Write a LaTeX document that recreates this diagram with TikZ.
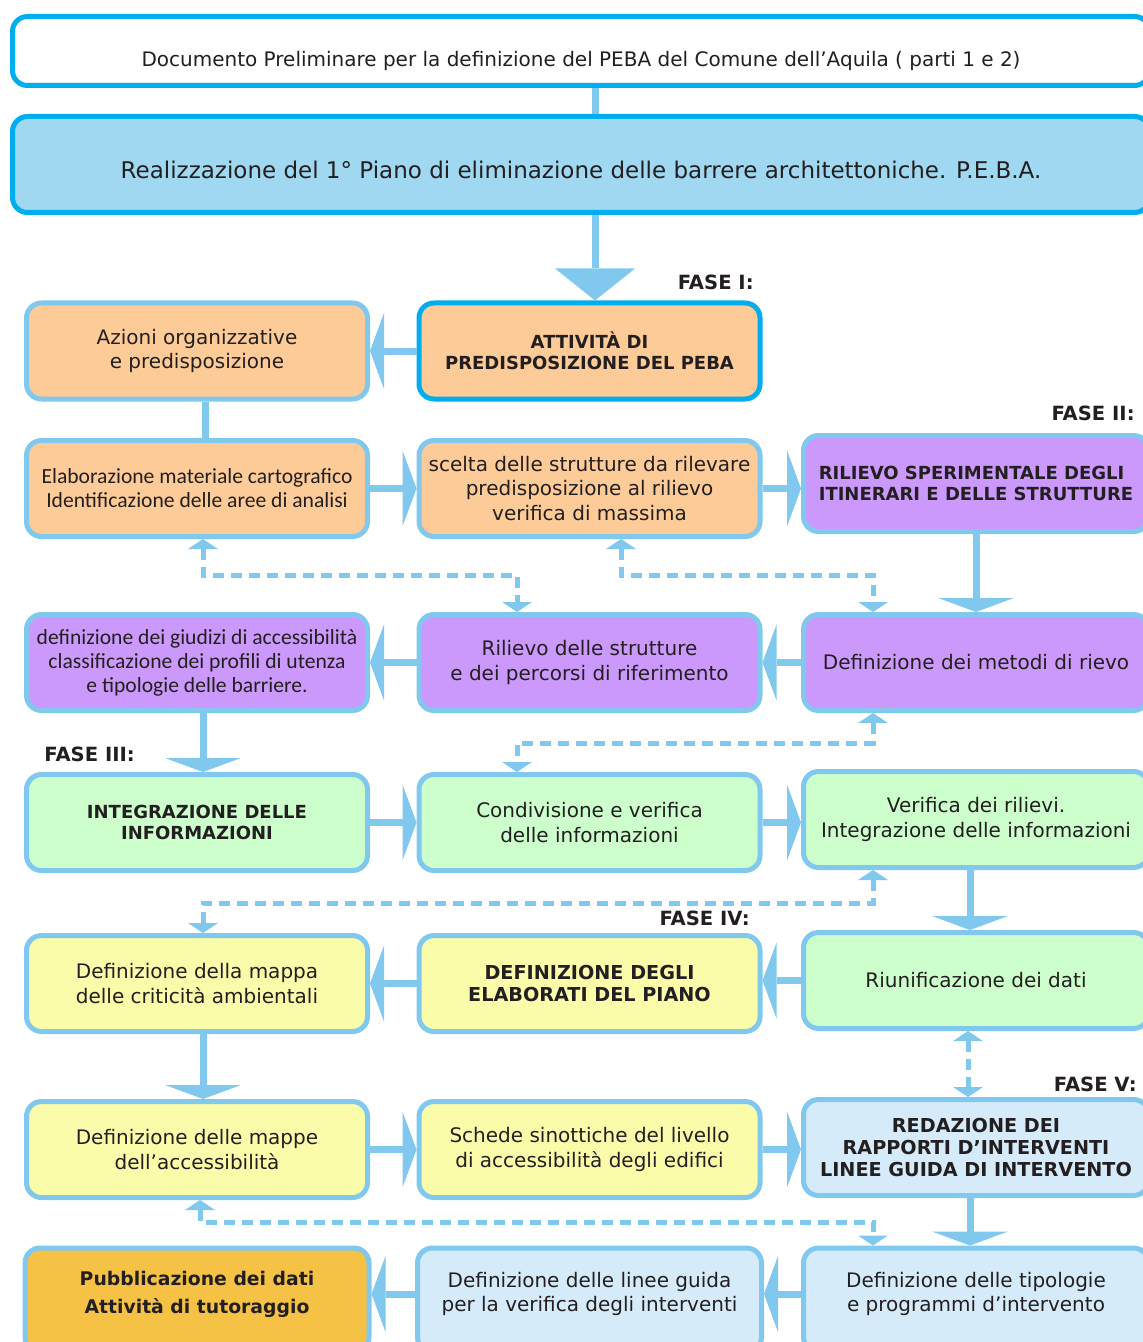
\documentclass[tikz,border=0pt]{standalone}
\usepackage{fontspec}
\setmainfont{DejaVu Sans}
\newfontfamily\calib{Carlito}
\usetikzlibrary{arrows.meta}

\definecolor{cyanline}{RGB}{0,174,239}
\definecolor{linkblue}{RGB}{128,200,238}
\definecolor{headfill}{RGB}{159,216,240}
\definecolor{peach}{RGB}{253,203,151}
\definecolor{lilac}{RGB}{203,152,251}
\definecolor{mint}{RGB}{204,255,204}
\definecolor{lemon}{RGB}{250,252,170}
\definecolor{sky}{RGB}{214,235,249}
\definecolor{gold}{RGB}{245,194,69}
\definecolor{ink}{RGB}{35,31,32}

\newcommand{\lowtext}[1]{\raisebox{0.5pt}[0pt][0pt]{\parbox{168pt}{\centering #1}}}

\tikzset{
  stage/.style={rectangle, rounded corners=7.5pt, draw=linkblue, line width=2.5pt,
    minimum width=170.5pt, minimum height=48pt, align=center, inner sep=2pt,
    text=ink, font=\fontsize{10}{12.2}\selectfont},
  widestage/.style={stage, minimum width=172.5pt},
  laststage/.style={minimum height=52pt},
  title/.style={font=\bfseries\fontsize{9}{10.6}\selectfont},
  bigtitle/.style={font=\bfseries\fontsize{9.6}{11}\selectfont},
  cal/.style={font=\calib\fontsize{10.8}{12}\selectfont},
  phase/.style={font=\bfseries\fontsize{9.8}{11}\selectfont, text=ink, inner sep=0pt},
  plain/.style={draw=linkblue, line width=3.5pt},
  link/.style={plain, -{Triangle[width=38pt,length=7pt,line width=0pt]}},
  bigarrow/.style={plain, -{Triangle[width=40pt,length=16pt,line width=0pt]}},
  dlink/.style={draw=linkblue, line width=2.5pt, dash pattern=on 5.5pt off 3.5pt,
    {Triangle[width=15pt,length=5pt,line width=0pt]}-{Triangle[width=15pt,length=5pt,line width=0pt]}},
}

\begin{document}
\begin{tikzpicture}[x=0.5pt,y=-0.5pt]
  \useasboundingbox (0,0) rectangle (1143,1342);
  \clip (0,0) rectangle (1143,1342);

  % heading boxes
  \node[stage, draw=cyanline, fill=white, minimum width=568.5pt, minimum height=34.5pt] (doc) at (581,51)
    {\raisebox{-5pt}[0.8em][0.2em]{Documento Preliminare per la definizione del PEBA del Comune dell’Aquila ( parti 1 e 2)}};
  \node[stage, draw=cyanline, fill=headfill, minimum width=568.5pt, font=\fontsize{11.5}{14}\selectfont] (peba) at (581,164.5)
    {\raisebox{-3.5pt}[0.8em][0.2em]{Realizzazione del 1° Piano di eliminazione delle barrere architettoniche. P.E.B.A.}};

  % fase I
  \node[stage, fill=peach] (azioni) at (197,351) {Azioni organizzative\\e predisposizione};
  \node[stage, draw=cyanline, fill=peach, title] (attiv) at (589.5,351) {ATTIVITÀ DI\\PREDISPOSIZIONE DEL PEBA};
  \node[stage, fill=peach, cal] (elabor) at (197,488.5) {Elaborazione materiale cartografico\\Identificazione delle aree di analisi};
  \node[stage, fill=peach] (scelta) at (589.5,488.5) {scelta delle strutture da rilevare\\predisposizione al rilievo\\verifica di massima};

  % fase II
  \node[widestage, fill=lilac, title, align=left] (sper) at (976,483.5) {RILIEVO SPERIMENTALE DEGLI\\ITINERARI E DELLE STRUTTURE};
  \node[stage, fill=lilac, cal] (giudizi) at (197,662.5) {definizione dei giudizi di accessibilità\\classificazione dei profili di utenza\\e tipologie delle barriere.};
  \node[stage, fill=lilac] (rilievo) at (589.5,662.5) {Rilievo delle strutture\\e dei percorsi di riferimento};
  \node[widestage, fill=lilac] (metodi) at (976,662.5) {Definizione dei metodi di rievo};

  % fase III
  \node[stage, fill=mint, title] (integr) at (197,822.5) {INTEGRAZIONE DELLE\\INFORMAZIONI};
  \node[stage, fill=mint] (condiv) at (589.5,822.5) {Condivisione e verifica\\delle informazioni};
  \node[widestage, fill=mint] (verif) at (976,819.5) {Verifica dei rilievi.\\Integrazione delle informazioni};
  \node[widestage, fill=mint] (riunif) at (976,980.5) {Riunificazione dei dati};

  % fase IV
  \node[stage, fill=lemon] (mappa) at (197,983.5) {Definizione della mappa\\delle criticità ambientali};
  \node[stage, fill=lemon, bigtitle] (elab) at (589.5,983.5) {DEFINIZIONE DEGLI\\ELABORATI DEL PIANO};
  \node[stage, fill=lemon] (mappe) at (197,1149.5) {Definizione delle mappe\\dell’accessibilità};
  \node[stage, fill=lemon] (schede) at (589.5,1149.5) {Schede sinottiche del livello\\di accessibilità degli edifici};

  % fase V
  \node[widestage, fill=sky, bigtitle] (redaz) at (976,1147.5) {REDAZIONE DEI\\RAPPORTI D’INTERVENTI\\LINEE GUIDA DI INTERVENTO};
  \node[widestage, laststage, fill=sky] (tipol) at (976,1300) {\lowtext{Definizione delle tipologie\\e programmi d’intervento}};
  \node[stage, laststage, fill=sky] (linee) at (589.5,1300) {\lowtext{Definizione delle linee guida\\per la verifica degli interventi}};
  \node[stage, laststage, fill=gold, font=\bfseries\fontsize{9.4}{14}\selectfont] (pubbl) at (197,1300) {\lowtext{Pubblicazione dei dati\\Attività di tutoraggio}};

  % phase labels
  \node[phase, anchor=east] (f1) at (754,282) {FASE I:};
  \node[phase, anchor=east] (f2) at (1135,413) {FASE II:};
  \node[phase, anchor=west] (f3) at (44,754) {FASE III:};
  \node[phase, anchor=east] (f4) at (750,918) {FASE IV:};
  \node[phase, anchor=east] (f5) at (1137,1084) {FASE V:};

  % solid connectors
  \draw[plain] ([xshift=7pt]doc.south) -- ([xshift=7pt]peba.north);
  \draw[bigarrow] ([xshift=7pt]peba.south) -- ([xshift=2.75pt]attiv.north);
  \draw[link] (attiv) -- (azioni);
  \draw[plain] ([xshift=4pt]azioni.south) -- ([xshift=4pt]elabor.north);
  \draw[link] (elabor) -- (scelta);
  \draw[link] (scelta.east) -- (scelta.east -| sper.west);
  \draw[link] (sper.south) -- (sper.south |- metodi.north);
  \draw[link] (metodi) -- (rilievo);
  \draw[link] (rilievo) -- (giudizi);
  \draw[link] ([xshift=3pt]giudizi.south) -- ([xshift=3pt]integr.north);
  \draw[link] (integr) -- (condiv);
  \draw[link] (condiv.east) -- (condiv.east -| verif.west);
  \draw[link] ([xshift=-3pt]verif.south) -- ([xshift=-3pt]riunif.north);
  \draw[link] (riunif.west) -- (riunif.west -| elab.east);
  \draw[link] (elab) -- (mappa);
  \draw[link] ([xshift=3pt]mappa.south) -- ([xshift=3pt]mappe.north);
  \draw[link] (mappe) -- (schede);
  \draw[link] (schede.east) -- (schede.east -| redaz.west);
  \draw[link] ([xshift=-3pt]redaz.south) -- ([xshift=-3pt]tipol.north);
  \draw[link] ([yshift=3pt]tipol.west) -- ([yshift=3pt]linee.east);
  \draw[link] ([yshift=3pt]linee.west) -- ([yshift=3pt]pubbl.east);

  % dashed feedback links
  \draw[dlink] ([xshift=3pt]elabor.south) -- ++(0,36) -| ([xshift=-36.25pt]rilievo.north);
  \draw[dlink] ([xshift=15.75pt]scelta.south) -- ++(0,36) -| ([xshift=-51.5pt]metodi.north);
  \draw[dlink] ([xshift=-51.5pt]metodi.south) -- ++(0,30) -| ([xshift=-36.25pt]condiv.north);
  \draw[dlink] ([xshift=-51.5pt]verif.south) -- ++(0,33) -| ([xshift=3pt]mappa.north);
  \draw[dlink] ([xshift=-4pt]riunif.south) -- ([xshift=-4pt]redaz.north);
  \draw[dlink] ([xshift=1.5pt]mappe.south) -- ++(0,22) -| ([xshift=-51.5pt]tipol.north);
\end{tikzpicture}
\end{document}
